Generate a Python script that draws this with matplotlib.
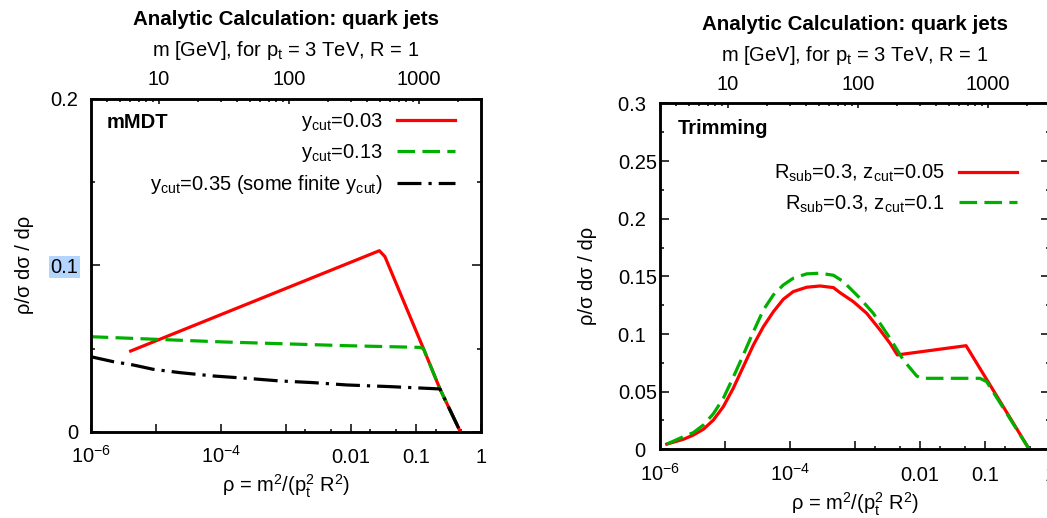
import matplotlib

matplotlib.use("Agg")
import matplotlib.pyplot as plt  # noqa: E402
from matplotlib.ticker import NullFormatter  # noqa: E402

plt.rcParams.update({
    "font.family": ["Liberation Sans", "DejaVu Sans"],
    "font.size": 14.5,
    "mathtext.fontset": "custom",
    "mathtext.rm": "Liberation Sans",
    "mathtext.it": "Liberation Sans:italic",
    "mathtext.bf": "Liberation Sans:bold",
    "mathtext.default": "regular",
    "axes.linewidth": 1.8,
    "xtick.direction": "in",
    "ytick.direction": "in",
})

RED = "#ff0000"
GREEN = "#00b000"
BLACK = "#000000"

# --- lewy panel: mMDT ---
rho_y003 = [4.12e-6, 0.0274, 0.0334, 0.130, 0.234, 0.481]
val_y003 = [0.0485, 0.1088, 0.1052, 0.0501, 0.0257, 0.0]
rho_y013 = [1e-6, 1e-4, 8.61e-3, 0.112, 0.130, 0.234, 0.481]
val_y013 = [0.0571, 0.0540, 0.0517, 0.0507, 0.0501, 0.0257, 0.0]
rho_y035 = [1e-6, 2.22e-6, 4.52e-6, 9.16e-6, 2.36e-5, 7.67e-5, 2.49e-4,
            8.13e-4, 2.64e-3, 8.59e-3, 0.0398, 0.234, 0.481]
val_y035 = [0.0451, 0.0421, 0.0401, 0.0375, 0.0355, 0.0335, 0.0321,
            0.0305, 0.0295, 0.0281, 0.0271, 0.0257, 0.0]
mmdt_labels = ["y$_{cut}$=0.03", "y$_{cut}$=0.13",
               "y$_{cut}$=0.35 (some finite y$_{cut}$)"]

# --- prawy panel: trimming ---
rho_z005 = [1.27e-6, 2.29e-6, 3.26e-6, 4.65e-6, 6.62e-6, 9.42e-6, 1.34e-5,
            1.91e-5, 2.73e-5, 3.89e-5, 5.55e-5, 7.89e-5, 1.12e-4, 1.80e-4,
            2.90e-4, 4.65e-4, 5.87e-4, 9.42e-4, 1.51e-3, 2.43e-3, 3.45e-3,
            4.47e-3, 0.0511, 0.479]
val_z005 = [0.0045, 0.0087, 0.0124, 0.0174, 0.0254, 0.037, 0.053,
            0.0717, 0.0905, 0.1064, 0.1194, 0.1302, 0.1368, 0.1406,
            0.1417, 0.1403, 0.1359, 0.1281, 0.118, 0.1035, 0.092,
            0.0819, 0.0899, 0.0]
rho_z01 = [1.27e-6, 2.29e-6, 3.26e-6, 4.65e-6, 6.62e-6, 9.42e-6, 1.34e-5,
           1.91e-5, 2.73e-5, 3.89e-5, 5.55e-5, 7.89e-5, 1.12e-4, 1.80e-4,
           2.90e-4, 4.65e-4, 6.61e-4, 1.19e-3, 1.91e-3, 3.45e-3, 5.53e-3,
           8.89e-3, 0.0106, 0.0837, 0.106, 0.479]
val_z01 = [0.0045, 0.011, 0.0145, 0.0211, 0.0309, 0.0443, 0.0626,
           0.0819, 0.102, 0.1209, 0.134, 0.1426, 0.1484, 0.1522,
           0.1528, 0.1510, 0.1455, 0.1311, 0.118, 0.0963, 0.0775,
           0.0636, 0.0616, 0.0616, 0.0587, 0.0]
trim_labels = ["R$_{sub}$=0.3, z$_{cut}$=0.05", "R$_{sub}$=0.3, z$_{cut}$=0.1"]

# osie
x_major = [1e-6, 1e-5, 1e-4, 1e-3, 1e-2, 1e-1, 1]
x_major_labels = ["$10^{-6}$", "", "$10^{-4}$", "", "0.01", "0.1", "1"]
x_minor = [2e-3, 5e-3, 2e-2, 5e-2, 0.2, 0.5]
m_ticks = [10, 100, 1000]
m_labels = ["10", "100", "1000"]

LW = 2.3
DASH = (0, (5.5, 2.3))
DASHDOT = (0, (7.5, 2.2, 1.0, 2.2))


def style_panel(ax, ylim, yticks, ylabels, yminor, ylabelpad, ytickpad):
    ax.set_xscale("log")
    ax.set_xlim(1e-6, 1)
    ax.set_ylim(*ylim)
    ax.set_xticks(x_major, labels=x_major_labels)
    ax.set_xticks(x_minor, minor=True)
    ax.xaxis.set_minor_formatter(NullFormatter())
    ax.set_yticks(yticks, labels=ylabels)
    ax.set_yticks(yminor, minor=True)
    ax.tick_params(axis="x", which="major", length=5.5, width=1.1, pad=22.5,
                   top=False)
    ax.tick_params(axis="x", which="minor", length=2.4, width=1.1, top=False)
    ax.tick_params(axis="y", which="major", length=6.5, width=1.1,
                   right=True, pad=ytickpad)
    ax.tick_params(axis="y", which="minor", length=3.2, width=1.1, right=True)
    for lbl in ax.get_xticklabels():
        lbl.set_verticalalignment("baseline")
    ax.set_xlabel(r"$\rho$ = m$^{2}$/(p$_{t}^{2}$ R$^{2}$)", labelpad=4)
    ax.set_ylabel("ρ/σ dσ / dρ", labelpad=ylabelpad)

    top = ax.twiny()
    top.set_xscale("log")
    top.set_xlim(3, 3000)
    top.set_xticks(m_ticks, labels=m_labels)
    top.xaxis.set_minor_formatter(NullFormatter())
    top.tick_params(axis="x", which="major", length=3.8, width=1.1, pad=10)
    top.tick_params(axis="x", which="minor", length=2.2, width=1.1)
    for lbl in top.get_xticklabels():
        lbl.set_verticalalignment("baseline")
    top.set_xlabel("m [GeV], for p$_{t}$ = 3 TeV, R = 1", labelpad=10)
    top.set_title("Analytic Calculation: quark jets", fontweight="bold",
                  fontsize=14.8, pad=10)
    return top


fig = plt.figure(figsize=(10.47, 5.18), dpi=100)

# lewy panel
ax1 = fig.add_axes([0.0866, 0.1666, 0.3728, 0.6423])
ax1.plot(rho_y003, val_y003, color=RED, lw=LW, label=mmdt_labels[0])
ax1.plot(rho_y013, val_y013, color=GREEN, lw=LW, linestyle=DASH,
         label=mmdt_labels[1])
ax1.plot(rho_y035, val_y035, color=BLACK, lw=LW, linestyle=DASHDOT,
         label=mmdt_labels[2])
style_panel(ax1, (0, 0.2), [0, 0.1, 0.2], ["0", "0.1", "0.2"],
            [0.05, 0.15], ylabelpad=12, ytickpad=9)
ax1.get_yticklabels()[1].set_bbox(dict(facecolor="#b4d5fe", edgecolor="none",
                                       pad=1))
ax1.text(0.042, 0.930, "mMDT", fontweight="bold", transform=ax1.transAxes,
         va="center")
ax1.legend(loc="upper right", bbox_to_anchor=(0.933, 0.963), frameon=False,
           markerfirst=False, borderpad=0, borderaxespad=0,
           handlelength=2.85, handletextpad=0.75, labelspacing=0.45)

# prawy panel (wystaje poza prawą krawędź, jak w oryginale)
ax2 = fig.add_axes([0.6304, 0.1326, 0.3725, 0.6676])
ax2.plot(rho_z005, val_z005, color=RED, lw=LW, label=trim_labels[0])
ax2.plot(rho_z01, val_z01, color=GREEN, lw=LW, linestyle=DASH,
         label=trim_labels[1])
fs = "\u2007"
style_panel(ax2, (0, 0.3), [0, 0.05, 0.1, 0.15, 0.2, 0.25, 0.3],
            ["0" + fs, "0.05", "0.1" + fs, "0.15", "0.2" + fs, "0.25",
             "0.3" + fs],
            [0.025, 0.075, 0.125, 0.175, 0.225, 0.275],
            ylabelpad=15, ytickpad=2)
ax2.text(0.046, 0.929, "Trimming", fontweight="bold", transform=ax2.transAxes,
         va="center")
ax2.legend(loc="upper right", bbox_to_anchor=(0.915, 0.828), frameon=False,
           markerfirst=False, borderpad=0, borderaxespad=0,
           handlelength=2.85, handletextpad=0.75, labelspacing=0.45)

fig.savefig("out.png", dpi=100)
plt.close(fig)
